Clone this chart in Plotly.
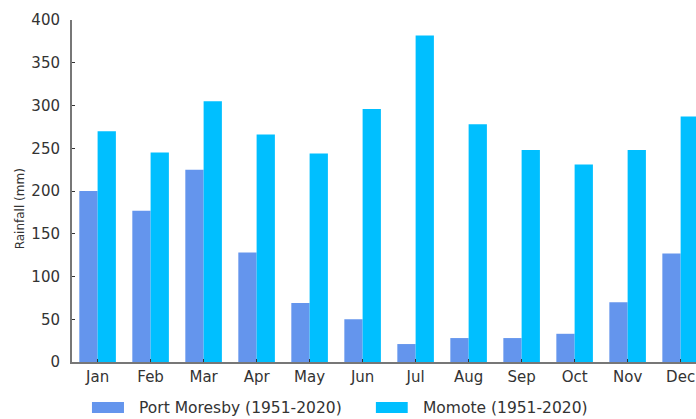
import plotly.graph_objects as go

months = ["Jan", "Feb", "Mar", "Apr", "May", "Jun",
          "Jul", "Aug", "Sep", "Oct", "Nov", "Dec"]
port_moresby = [200, 177, 225, 128, 69, 50, 21, 28, 28, 33, 70, 127]
momote = [270, 245, 305, 266, 244, 296, 382, 278, 248, 231, 248, 287]
y_ticks = [0, 50, 100, 150, 200, 250, 300, 350, 400]

PM_NAME = "Port Moresby (1951-2020)"
MO_NAME = "Momote (1951-2020)"
PM_COLOR = "#6495ED"
MO_COLOR = "#00BFFF"
FONT = "DejaVu Sans"
TEXT = "#333333"
AXIS = "#777777"

fig = go.Figure()
fig.add_trace(go.Bar(x=list(range(len(months))), y=port_moresby, name=PM_NAME,
                     marker=dict(color=PM_COLOR, line=dict(width=0))))
fig.add_trace(go.Bar(x=list(range(len(months))), y=momote, name=MO_NAME,
                     marker=dict(color=MO_COLOR, line=dict(width=0))))

# legend drawn below the axes as swatches + labels
legend_items = [(PM_NAME, PM_COLOR, 0.032, 0.0833, 0.104),
                (MO_NAME, MO_COLOR, 0.487, 0.538, 0.559)]
for name, color, x0, x1, xt in legend_items:
    fig.add_shape(type="rect", xref="paper", yref="paper",
                  x0=x0, x1=x1, y0=-0.149, y1=-0.117,
                  fillcolor=color, line=dict(width=0))
    fig.add_annotation(xref="paper", yref="paper", x=xt, y=-0.135,
                       text=name, showarrow=False, xanchor="left", yanchor="middle",
                       font=dict(family=FONT, size=15.5, color=TEXT))

# y-axis title
fig.add_annotation(xref="paper", yref="paper", x=-0.083, y=0.447,
                   text="Rainfall (mm)", textangle=-90, showarrow=False,
                   xanchor="center", yanchor="middle",
                   font=dict(family=FONT, size=12, color=TEXT))

fig.update_layout(
    width=696, height=419,
    margin=dict(l=72, r=0, t=20, b=57),
    paper_bgcolor="white", plot_bgcolor="white",
    barmode="group", bargap=0.31, bargroupgap=0,
    showlegend=False,
    font=dict(family=FONT, size=15, color=TEXT),
)
fig.update_xaxes(
    range=[-0.483, 11.29],
    tickmode="array", tickvals=list(range(len(months))), ticktext=months,
    ticks="inside", ticklen=3, tickwidth=1, tickcolor="#333333",
    showline=True, linecolor=AXIS, linewidth=2,
    showgrid=False, zeroline=False,
    tickfont=dict(family=FONT, size=15, color=TEXT),
)
fig.update_yaxes(
    range=[0, 400],
    tickmode="array", tickvals=y_ticks,
    ticks="inside", ticklen=3, tickwidth=1, tickcolor="#333333",
    ticklabelstandoff=7,
    showline=True, linecolor=AXIS, linewidth=2,
    showgrid=False, zeroline=False,
    tickfont=dict(family=FONT, size=15, color=TEXT),
)

fig.write_html("out.html")
